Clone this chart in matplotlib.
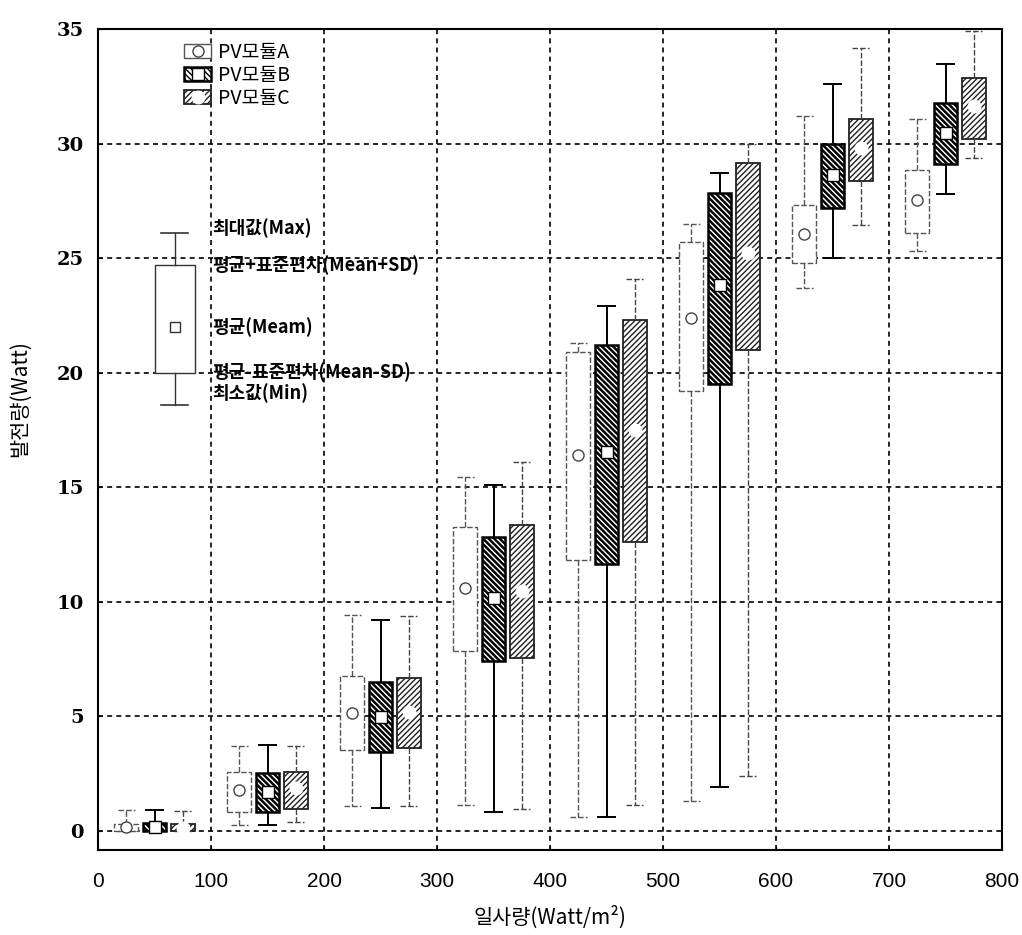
import matplotlib
matplotlib.use("Agg")
import matplotlib.pyplot as plt
from matplotlib.patches import Patch
from matplotlib.lines import Line2D

plt.rcParams['font.family'] = ['Noto Sans CJK KR', 'DejaVu Sans']

# irradiance group centres (Watt/m2)
irr = [50, 150, 250, 350, 450, 550, 650, 750]
x_ticks = [0, 100, 200, 300, 400, 500, 600, 700, 800]
y_ticks = [0, 5, 10, 15, 20, 25, 30, 35]

# PV module A : min, mean-SD, mean, mean+SD, max
a_min = [0.0, 0.26, 1.05, 1.13, 0.57, 1.3, 23.7, 25.3]
a_lo = [0.0, 0.83, 3.53, 7.85, 11.8, 19.2, 24.8, 26.1]
a_mean = [0.15, 1.79, 5.14, 10.59, 16.39, 22.4, 26.07, 27.55]
a_hi = [0.3, 2.57, 6.76, 13.25, 20.9, 25.7, 27.3, 28.86]
a_max = [0.9, 3.67, 9.42, 15.43, 21.3, 26.5, 31.2, 31.08]

# PV module B
b_min = [0.0, 0.26, 1.0, 0.83, 0.6, 1.9, 25.0, 27.8]
b_lo = [0.0, 0.83, 3.44, 7.41, 11.64, 19.5, 27.2, 29.12]
b_mean = [0.15, 1.7, 4.97, 10.16, 16.52, 23.8, 28.64, 30.47]
b_hi = [0.35, 2.52, 6.5, 12.82, 21.2, 27.85, 30.0, 31.78]
b_max = [0.9, 3.75, 9.2, 15.08, 22.9, 28.7, 32.6, 33.48]

# PV module C
c_min = [0.0, 0.39, 1.05, 0.92, 1.13, 2.4, 26.46, 29.38]
c_lo = [0.0, 0.96, 3.62, 7.54, 12.6, 21.0, 28.38, 30.2]
c_mean = [0.12, 1.87, 5.19, 10.46, 17.5, 25.2, 29.8, 31.65]
c_hi = [0.3, 2.57, 6.67, 13.34, 22.3, 29.16, 31.08, 32.87]
c_max = [0.85, 3.67, 9.37, 16.08, 24.1, 30.0, 34.18, 34.9]

# explanation box (min, mean-SD, mean, mean+SD, max)
key_vals = [18.6, 20.0, 22.0, 24.7, 26.1]
key_labels = ['최대값(Max)', '평균+표준편차(Mean+SD)', '평균(Meam)', '평균-표준편차(Mean-SD)', '최소값(Min)']
legend_labels = ['PV모듈A', 'PV모듈B', 'PV모듈C']


def make_stats(mins, los, means, his, maxs):
    out = []
    for i in range(len(mins)):
        out.append({'whislo': mins[i], 'q1': los[i], 'med': means[i], 'mean': means[i],
                    'q3': his[i], 'whishi': maxs[i], 'fliers': []})
    return out


fig = plt.figure(figsize=(10.22, 9.35), dpi=100)
ax = fig.add_axes([98 / 1022, 85 / 935, 904 / 1022, 821 / 935])

ax.set_xlim(0, 800)
ax.set_ylim(-0.85, 35)
for v in x_ticks[1:-1]:
    ax.axvline(v, color='black', linestyle=(0, (3, 2.5)), linewidth=1.2, zorder=0)
for v in y_ticks[:-1]:
    ax.axhline(v, color='black', linestyle=(0, (3, 2.5)), linewidth=1.2, zorder=0)

thin = (0, (4, 1.5))
series = [
    (make_stats(a_min, a_lo, a_mean, a_hi, a_max), -25,
     dict(facecolor='white', edgecolor='#555555', linewidth=1.0, linestyle=thin),
     dict(color='#555555', linewidth=1.0, linestyle=thin),
     dict(marker='o', markerfacecolor='white', markeredgecolor='#444444', markersize=8), 1.0),
    (make_stats(b_min, b_lo, b_mean, b_hi, b_max), 0,
     dict(facecolor='white', edgecolor='black', linewidth=1.8, hatch='\\' * 6),
     dict(color='black', linewidth=1.4),
     dict(marker='s', markerfacecolor='white', markeredgecolor='black', markersize=8), 1.8),
    (make_stats(c_min, c_lo, c_mean, c_hi, c_max), 25,
     dict(facecolor='white', edgecolor='#222222', linewidth=1.3, hatch='/' * 6),
     dict(color='#444444', linewidth=1.0, linestyle=thin),
     dict(marker='o', markerfacecolor='white', markeredgecolor='white', markersize=9), 1.0),
]

handles = []
for stats, off, bprops, wprops, mprops, hlw in series:
    plt.rcParams['hatch.linewidth'] = hlw
    res = ax.bxp(stats, positions=[p + off for p in irr], widths=21, capwidths=15,
                 patch_artist=True, showmeans=True, showfliers=False, manage_ticks=False,
                 boxprops=bprops, whiskerprops=wprops, capprops=wprops,
                 medianprops=dict(linewidth=0), meanprops=dict(mprops, linestyle='none'))
    for b in res['boxes']:
        if hasattr(b, 'set_hatch_linewidth'):
            b.set_hatch_linewidth(hlw)
    p = Patch(facecolor='white', edgecolor=bprops['edgecolor'], hatch=bprops.get('hatch'),
              linewidth=bprops['linewidth'])
    if hasattr(p, 'set_hatch_linewidth'):
        p.set_hatch_linewidth(hlw)
    m = Line2D([], [], linestyle='none', **mprops)
    handles.append((p, m))

# explanation box
key_stats = make_stats([key_vals[0]], [key_vals[1]], [key_vals[2]], [key_vals[3]], [key_vals[4]])
ax.bxp(key_stats, positions=[68], widths=35, capwidths=24, patch_artist=True, showmeans=True,
       showfliers=False, manage_ticks=False,
       boxprops=dict(facecolor='white', edgecolor='#333333', linewidth=1.0),
       whiskerprops=dict(color='#333333', linewidth=1.0), capprops=dict(color='#333333', linewidth=1.2),
       medianprops=dict(linewidth=0),
       meanprops=dict(marker='s', markerfacecolor='white', markeredgecolor='#333333', markersize=7))
key_y = [key_vals[4] + 0.2, key_vals[3], key_vals[2], key_vals[1], key_vals[0] + 0.5]
for lbl, yv in zip(key_labels, key_y):
    ax.text(101, yv, lbl, fontsize=13, fontweight='bold', va='center', ha='left')

plt.rcParams['hatch.linewidth'] = 1.0
ax.legend(handles=handles, labels=legend_labels, loc='upper left', frameon=False,
          bbox_to_anchor=(184 / 1022, 1 - 42 / 935), bbox_transform=fig.transFigure,
          borderpad=0, borderaxespad=0, handlelength=1.4, handleheight=0.75,
          labelspacing=0.1, handletextpad=0.35, prop={'size': 14, 'weight': 'medium'})

ax.set_xticks(x_ticks)
ax.set_yticks(y_ticks)
ax.set_xticklabels([str(v) for v in x_ticks], fontsize=15, family='Liberation Sans')
ax.set_yticklabels([str(v) for v in y_ticks], fontsize=14, family='DejaVu Serif', fontweight='bold')
ax.tick_params(axis='y', length=3, direction='in', pad=10)
ax.tick_params(axis='x', length=3, direction='in', pad=16)
for s in ax.spines.values():
    s.set_linewidth(1.5)
    s.set_color('black')

ax.set_xlabel('일사량(Watt/m²)', fontsize=15, labelpad=10)
ax.set_ylabel('발전량(Watt)', fontsize=15)
ax.yaxis.set_label_coords(-0.074, 0.55)

plt.savefig('out.png', dpi=100)
